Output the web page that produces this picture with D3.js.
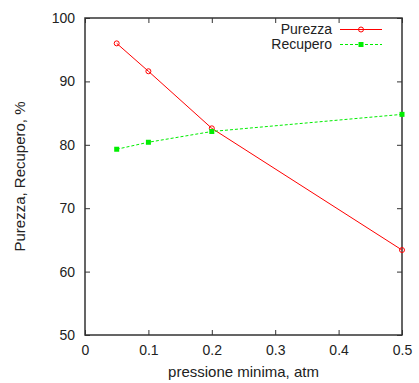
<!DOCTYPE html>
<html>
<head>
<meta charset="utf-8">
<script src="https://cdn.jsdelivr.net/npm/d3@7"></script>
<style>
  body { margin: 0; background: #fff; }
  text { font-family: "Liberation Sans", Arial, sans-serif; font-size: 15px; fill: #222; }
</style>
</head>
<body>
<svg id="chart" width="419" height="383"></svg>
<script>
// dati
const pressione = [0.05, 0.1, 0.2, 0.5];
const purezza = [96.0, 91.6, 82.6, 63.4];
const recupero = [79.3, 80.4, 82.1, 84.8];
const xTicks = [0, 0.1, 0.2, 0.3, 0.4, 0.5];
const yTicks = [50, 60, 70, 80, 90, 100];

const margin = {top: 18, right: 17, bottom: 48, left: 85},
    width = 419 - margin.left - margin.right,
    height = 383 - margin.top - margin.bottom;

const svg = d3.select('#chart')
    .append('g')
    .attr('transform', `translate(${margin.left},${margin.top})`);

const x = d3.scaleLinear().domain([0, 0.5]).range([0, width]);
const y = d3.scaleLinear().domain([50, 100]).range([height, 0]);

// assi con tacche interne su tutti i lati
const tick = 5;
const fmtX = d => d === 0 ? "0" : d3.format('.1f')(d);

svg.append('g')
    .attr('transform', `translate(0,${height})`)
    .call(d3.axisBottom(x).tickValues(xTicks).tickFormat(fmtX).tickSizeInner(-tick).tickSizeOuter(0).tickPadding(10));
svg.append('g')
    .call(d3.axisTop(x).tickValues(xTicks).tickFormat('').tickSizeInner(-tick).tickSizeOuter(0));
svg.append('g')
    .call(d3.axisLeft(y).tickValues(yTicks).tickSizeInner(-tick).tickSizeOuter(0).tickPadding(10));
svg.append('g')
    .attr('transform', `translate(${width},0)`)
    .call(d3.axisRight(y).tickValues(yTicks).tickFormat('').tickSizeInner(-tick).tickSizeOuter(0));

svg.selectAll('.domain').remove();
svg.selectAll('.tick line').attr('stroke', '#333').attr('stroke-width', 1);
svg.selectAll('.tick text').style('font-size', '14px').attr('fill', '#222');

// cornice
svg.append('rect')
    .attr('width', width).attr('height', height)
    .attr('fill', 'none')
    .attr('stroke', '#333')
    .attr('stroke-width', 1.5);

// linee
const line = data => d3.line()
    .x((d, i) => x(pressione[i]))
    .y(d => y(d))(data);

svg.append('path')
    .attr('d', line(purezza))
    .attr('fill', 'none')
    .attr('stroke', '#ff0000')
    .attr('stroke-width', 1);

svg.append('path')
    .attr('d', line(recupero))
    .attr('fill', 'none')
    .attr('stroke', '#00ee00')
    .attr('stroke-width', 1)
    .attr('stroke-dasharray', '3,2');

svg.selectAll('.pt-pur')
    .data(purezza)
    .enter().append('circle')
    .attr('cx', (d, i) => x(pressione[i]))
    .attr('cy', d => y(d))
    .attr('r', 2.5)
    .attr('fill', 'none')
    .attr('stroke', '#ff0000')
    .attr('stroke-width', 1);

svg.selectAll('.pt-rec')
    .data(recupero)
    .enter().append('rect')
    .attr('x', (d, i) => x(pressione[i]) - 2.5)
    .attr('y', d => y(d) - 2.5)
    .attr('width', 5)
    .attr('height', 5)
    .attr('fill', '#00ee00');

// legenda
const legend = svg.append('g').attr('transform', `translate(${width - 70},0)`);
const items = [
    {name: 'Purezza', color: '#ff0000', dash: null, mark: 'circle'},
    {name: 'Recupero', color: '#00ee00', dash: '3,2', mark: 'rect'}
];
items.forEach((it, i) => {
    const ly = 11.5 + i * 15;
    legend.append('text')
        .attr('x', 0).attr('y', ly).attr('dy', '0.35em')
        .attr('text-anchor', 'end')
        .style('font-size', '14px')
        .text(it.name);
    legend.append('line')
        .attr('x1', 8).attr('x2', 50)
        .attr('y1', ly).attr('y2', ly)
        .attr('stroke', it.color)
        .attr('stroke-dasharray', it.dash);
    if (it.mark === 'circle') {
        legend.append('circle').attr('cx', 29).attr('cy', ly).attr('r', 2.5)
            .attr('fill', 'none').attr('stroke', it.color);
    } else {
        legend.append('rect').attr('x', 26.5).attr('y', ly - 2.5)
            .attr('width', 5).attr('height', 5).attr('fill', it.color);
    }
});

// etichette assi
svg.append('text')
    .attr('x', width / 2).attr('y', height + 42)
    .attr('text-anchor', 'middle')
    .text('pressione minima, atm');

svg.append('text')
    .attr('transform', `translate(-60,${height / 2}) rotate(-90)`)
    .attr('text-anchor', 'middle')
    .text('Purezza, Recupero, %');
</script>
</body>
</html>
